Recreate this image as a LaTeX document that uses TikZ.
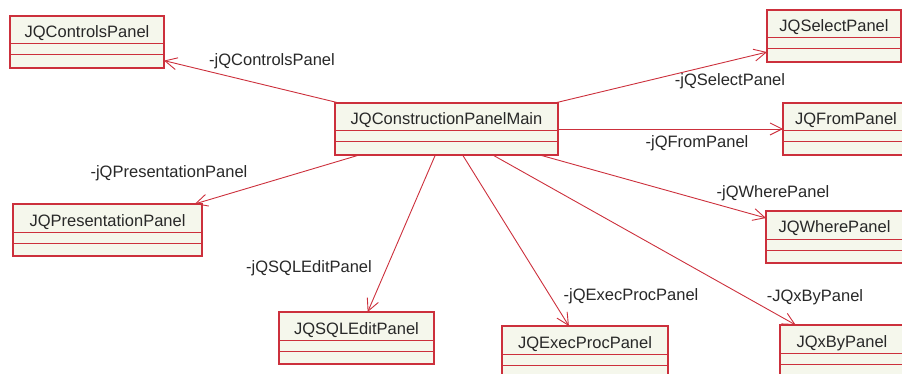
\documentclass[tikz,border=0pt]{standalone}
\usepackage{fontspec}
\setmainfont{Liberation Sans}
\usetikzlibrary{arrows.meta,calc}

\definecolor{umlred}{RGB}{204,48,60}
\definecolor{umlfill}{RGB}{245,247,236}
\definecolor{umltext}{RGB}{40,40,40}

\tikzset{
  classbox/.style={draw=umlred, fill=umlfill, line width=1.5pt,
    minimum height=52pt, inner sep=0pt, outer sep=0pt},
  compline/.style={draw=umlred, line width=1pt},
  classname/.style={anchor=base, inner sep=0pt, text=umltext,
    font=\fontsize{16.5}{19}\selectfont},
  rolelabel/.style={inner sep=0pt, text=umltext,
    font=\fontsize{16.5}{19}\selectfont},
  assoc/.style={draw=umlred, line width=0.9pt,
    -{Straight Barb[length=12pt,width=12pt,line width=0.9pt]}},
}

% \umlclass{id}{left}{top}{width}{class name}
\newcommand\umlclass[5]{%
  \node[classbox, minimum width=#4pt, anchor=north west] (#1) at (#2,#3) {};
  \draw[compline] ($(#1.north west)+(0,28)$) -- ($(#1.north east)+(0,28)$);
  \draw[compline] ($(#1.north west)+(0,39)$) -- ($(#1.north east)+(0,39)$);
  \node[classname] (#1-name) at ($(#1.north)+(0,22)$) {#5};
}

\begin{document}
\begin{tikzpicture}[x=1pt, y=-1pt]
  \useasboundingbox (0,0) rectangle (902,374);
  \clip (0,0) rectangle (902,374);

  % classes
  \umlclass{main}{335}{103}{223}{JQConstructionPanelMain}
  \umlclass{ctrl}{10}{16}{154}{JQControlsPanel}
  \umlclass{sel}{767}{10}{134}{JQSelectPanel}
  \umlclass{from}{783}{103}{126}{JQFromPanel}
  \umlclass{pres}{13}{204}{189}{JQPresentationPanel}
  \umlclass{sql}{279}{312}{155}{JQSQLEditPanel}
  \umlclass{exec}{502}{326}{166}{JQExecProcPanel}
  \umlclass{where}{766}{211}{137}{JQWherePanel}
  \umlclass{xby}{780}{325}{124}{JQxByPanel}

  % associations
  \draw[assoc] (main) -- (ctrl);
  \draw[assoc] (main) -- (sel);
  \draw[assoc] (main) -- (from);
  \draw[assoc] (main) -- (pres);
  \draw[assoc] (main) -- (sql);
  \draw[assoc] (main) -- (exec);
  \draw[assoc] (main) -- (where);
  \draw[assoc] (main) -- (xby);

  % role names
  \node[rolelabel] (r-ctrl)  at (272,61)  {-jQControlsPanel};
  \node[rolelabel] (r-sel)   at (730,81)  {-jQSelectPanel};
  \node[rolelabel] (r-from)  at (697,143) {-jQFromPanel};
  \node[rolelabel] (r-pres)  at (169,173) {-jQPresentationPanel};
  \node[rolelabel] (r-sql)   at (309,268) {-jQSQLEditPanel};
  \node[rolelabel] (r-exec)  at (631,296) {-jQExecProcPanel};
  \node[rolelabel] (r-where) at (773,193) {-jQWherePanel};
  \node[rolelabel] (r-xby)   at (815,297) {-JQxByPanel};
\end{tikzpicture}
\end{document}
